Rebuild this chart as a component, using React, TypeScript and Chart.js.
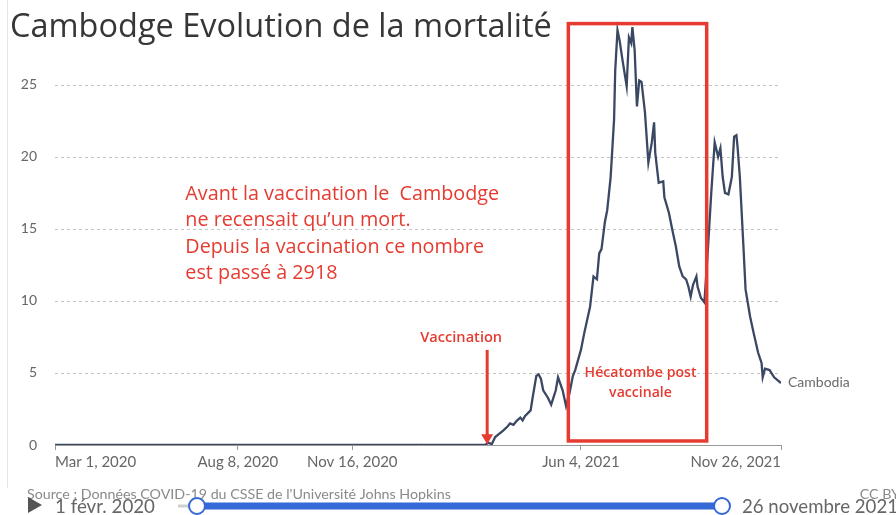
import { useEffect, useRef } from "react";
import { Chart, registerables } from "chart.js";
Chart.register(...registerables);

// Days since Mar 1, 2020
const dayOffsets = [
  0, 376, 379, 381, 382, 385, 389, 392, 396, 398, 401, 404, 407, 409, 411, 416, 418, 421, 423, 425,
  427, 431, 434, 438, 440, 444, 447, 450, 453, 455, 460, 463, 468, 471, 474, 476, 478, 481, 483, 486,
  489, 490, 492, 494, 496, 500, 502, 504, 505, 507, 509, 511, 513, 516, 519, 522, 524, 525, 528, 532,
  533, 537, 540, 543, 546, 549, 552, 554, 556, 558, 561, 562, 565, 568, 571, 574, 577, 580, 582, 584,
  586, 589, 592, 594, 596, 597, 599, 602, 604, 608, 611, 615, 618, 619, 621, 625, 629, 635,
];
// New deaths (7-day average)
const deaths = [
  0, 0, 0.15, 0.1, 0.05, 0.55, 0.8, 1.0, 1.3, 1.5, 1.4, 1.7, 1.9, 1.7, 2.0, 2.4, 3.4, 4.8, 4.9, 4.6,
  3.8, 3.3, 2.8, 3.8, 4.7, 3.8, 2.7, 3.6, 4.8, 5.2, 6.6, 7.8, 9.6, 11.7, 11.5, 13.3, 13.6, 15.5, 16.3, 18.6,
  22.6, 26.0, 28.8, 28.0, 26.9, 24.9, 28.3, 27.9, 29.0, 27.4, 23.5, 25.3, 25.2, 23.1, 19.6, 21.0, 22.4, 20.3, 18.2, 18.3,
  17.2, 16.1, 14.9, 13.8, 12.4, 11.7, 11.5, 11.0, 10.3, 11.1, 11.7, 11.0, 10.2, 9.9, 13.5, 17.5, 21.0, 20.0, 20.6, 18.6,
  17.5, 17.4, 18.6, 21.4, 21.5, 20.7, 18.6, 14.0, 10.8, 8.9, 7.8, 6.4, 5.7, 4.7, 5.3, 5.2, 4.7, 4.3,
];

const tickDays = [0, 160, 260, 460, 635];
const tickLabels = ["Mar 1, 2020", "Aug 8, 2020", "Nov 16, 2020", "Jun 4, 2021", "Nov 26, 2021"];
const yTicks = [0, 5, 10, 15, 20, 25];
const seriesName = "Cambodia";

const titleText = "Cambodge Evolution de la mortalité";
const noteLines = [
  "Avant la vaccination le  Cambodge",
  "ne recensait qu’un mort.",
  "Depuis la vaccination ce nombre",
  "est passé à 2918",
];
const noteDay = 114;
const noteValue = 17.4;
const vaccinationDay = 378;
const vaccinationLabel = "Vaccination";
const boxStartDay = 449;
const boxEndDay = 570;
const boxTopValue = 29.25;
const boxBottomValue = 0.28;
const boxLabelLines = ["Hécatombe post", "vaccinale"];
const sourceText = "Source : Données COVID-19 du CSSE de l'Université Johns Hopkins";
const licenceText = "CC BY";
const rangeStartLabel = "1 févr. 2020";
const rangeEndLabel = "26 novembre 2021";

const RED = "#e63b30";

function fitSize(ctx: CanvasRenderingContext2D, text: string, weight: string, family: string, target: number) {
  ctx.font = `${weight} 100px ${family}`;
  const w = ctx.measureText(text).width;
  return (100 * target) / w;
}

const overlay = {
  id: "overlay",
  beforeDatasetsDraw(chart: any) {
    // dotted horizontal grid lines
    const ctx: CanvasRenderingContext2D = chart.ctx;
    const ys = chart.scales.y;
    const area = chart.chartArea;
    ctx.save();
    ctx.strokeStyle = "#c4c4c4";
    ctx.lineWidth = 1;
    ctx.setLineDash([3, 3]);
    yTicks.forEach((v) => {
      if (v === 0) return;
      const y = Math.round(ys.getPixelForValue(v)) + 0.5;
      ctx.beginPath();
      ctx.moveTo(area.left, y);
      ctx.lineTo(area.right, y);
      ctx.stroke();
    });
    ctx.restore();
  },
  afterDraw(chart: any) {
    const ctx: CanvasRenderingContext2D = chart.ctx;
    const xs = chart.scales.x;
    const ys = chart.scales.y;
    ctx.save();

    // frame line at left
    ctx.strokeStyle = "#e4e4e4";
    ctx.lineWidth = 1;
    ctx.beginPath();
    ctx.moveTo(7.5, 0);
    ctx.lineTo(7.5, 488);
    ctx.stroke();

    // Title
    const tFam = "'Open Sans', 'Noto Sans', sans-serif";
    let sz = fitSize(ctx, titleText, "400", tFam, 542);
    ctx.font = `400 ${sz}px ${tFam}`;
    ctx.fillStyle = "#363636";
    ctx.textAlign = "left";
    ctx.textBaseline = "middle";
    ctx.fillText(titleText, 10, 28);

    // Note
    sz = fitSize(ctx, noteLines[0], "400", tFam, 314);
    ctx.font = `400 ${sz}px ${tFam}`;
    ctx.fillStyle = RED;
    const nx = xs.getPixelForValue(noteDay);
    const ny = ys.getPixelForValue(noteValue);
    noteLines.forEach((l, i) => ctx.fillText(l, nx, ny + i * 26.5));

    // Vaccination arrow
    const ax = xs.getPixelForValue(vaccinationDay);
    const aTop = ys.getPixelForValue(6.6);
    const aTip = ys.getPixelForValue(0.05);
    ctx.strokeStyle = RED;
    ctx.lineWidth = 3;
    ctx.beginPath();
    ctx.moveTo(ax, aTop);
    ctx.lineTo(ax, aTip - 8);
    ctx.stroke();
    ctx.beginPath();
    ctx.moveTo(ax - 6, aTip - 10);
    ctx.lineTo(ax + 6, aTip - 10);
    ctx.lineTo(ax, aTip);
    ctx.closePath();
    ctx.fillStyle = RED;
    ctx.fill();
    sz = fitSize(ctx, vaccinationLabel, "600", tFam, 82);
    ctx.font = `600 ${sz}px ${tFam}`;
    ctx.textAlign = "center";
    ctx.fillText(vaccinationLabel, ax - 26, ys.getPixelForValue(7.45));

    // Red box
    const bx0 = xs.getPixelForValue(boxStartDay);
    const bx1 = xs.getPixelForValue(boxEndDay);
    const by0 = ys.getPixelForValue(boxTopValue);
    const by1 = ys.getPixelForValue(boxBottomValue);
    ctx.lineWidth = 3.5;
    ctx.strokeRect(bx0, by0, bx1 - bx0, by1 - by0);
    sz = fitSize(ctx, boxLabelLines[0], "600", tFam, 112);
    ctx.font = `600 ${sz}px ${tFam}`;
    const bcx = (bx0 + bx1) / 2 + 3;
    ctx.fillText(boxLabelLines[0], bcx, 373);
    ctx.fillText(boxLabelLines[1], bcx, 393);

    // Series label
    const last = dayOffsets.length - 1;
    ctx.font = "400 14px Lato, sans-serif";
    ctx.fillStyle = "#6b6b6b";
    ctx.textAlign = "left";
    ctx.fillText(seriesName, xs.getPixelForValue(dayOffsets[last]) + 7, ys.getPixelForValue(deaths[last]) - 1);

    // Source
    sz = fitSize(ctx, sourceText, "400", "Lato, sans-serif", 424);
    ctx.font = `400 ${sz}px Lato, sans-serif`;
    ctx.fillStyle = "#8a8a8a";
    ctx.fillText(sourceText, 27, 494);
    ctx.textAlign = "right";
    ctx.fillText(licenceText, 900, 494);

    // Timeline
    ctx.fillStyle = "#555";
    ctx.beginPath();
    ctx.moveTo(28, 497);
    ctx.lineTo(42, 505);
    ctx.lineTo(28, 513);
    ctx.closePath();
    ctx.fill();
    ctx.fillStyle = "#666";
    ctx.textAlign = "left";
    sz = fitSize(ctx, rangeStartLabel, "400", "Lato, sans-serif", 100);
    ctx.font = `400 ${sz}px Lato, sans-serif`;
    ctx.fillText(rangeStartLabel, 55, 507);
    sz = fitSize(ctx, rangeEndLabel, "400", "Lato, sans-serif", 156);
    ctx.font = `400 ${sz}px Lato, sans-serif`;
    ctx.fillText(rangeEndLabel, 742, 507);
    ctx.strokeStyle = "#cfcfcf";
    ctx.lineWidth = 3;
    ctx.beginPath();
    ctx.moveTo(178, 506);
    ctx.lineTo(197, 506);
    ctx.stroke();
    ctx.strokeStyle = "#3569d6";
    ctx.lineWidth = 7;
    ctx.beginPath();
    ctx.moveTo(197, 506);
    ctx.lineTo(722, 506);
    ctx.stroke();
    [197, 722].forEach((cx) => {
      ctx.beginPath();
      ctx.arc(cx, 506, 8, 0, Math.PI * 2);
      ctx.fillStyle = "#fff";
      ctx.fill();
      ctx.lineWidth = 2;
      ctx.strokeStyle = "#3569d6";
      ctx.stroke();
    });

    ctx.restore();
  },
};

export default function App() {
  const ref = useRef<HTMLCanvasElement | null>(null);
  useEffect(() => {
    document.body.style.margin = "0";
    const canvas = ref.current!;
    const chart = new Chart(canvas, {
      type: "line",
      data: {
        datasets: [
          {
            label: seriesName,
            data: dayOffsets.map((d, i) => ({ x: d, y: deaths[i] })),
            borderColor: "#3b4863",
            borderWidth: 2.3,
            pointRadius: 0,
            tension: 0,
            fill: false,
          },
        ],
      },
      options: {
        responsive: false,
        animation: false,
        layout: { padding: { top: 20, right: 115, bottom: 40, left: 0 } },
        plugins: { legend: { display: false }, tooltip: { enabled: false }, title: { display: false } },
        scales: {
          x: {
            type: "linear",
            min: 0,
            max: 635,
            afterBuildTicks: (s: any) => {
              s.ticks = tickDays.map((v) => ({ value: v }));
            },
            afterFit: (s: any) => {
              s.height = 30;
            },
            ticks: {
              callback: (v: any) => tickLabels[tickDays.indexOf(Number(v))] ?? "",
              align: "inner",
              maxRotation: 0,
              autoSkip: false,
              color: "#666",
              font: { family: "Lato", size: 15 },
              padding: 3,
            },
            grid: { drawOnChartArea: false, drawTicks: true, tickLength: 5, color: "#999" },
            border: { display: true, color: "#999", width: 1 },
          },
          y: {
            type: "linear",
            min: 0,
            max: 29.5,
            afterBuildTicks: (s: any) => {
              s.ticks = yTicks.map((v) => ({ value: v }));
            },
            afterFit: (s: any) => {
              s.width = 55;
            },
            ticks: { color: "#666", font: { family: "Lato", size: 14 }, padding: 10 },
            grid: { display: false },
            border: { display: false },
          },
        },
      } as any,
      plugins: [overlay],
    });
    return () => chart.destroy();
  }, []);
  return (
    <div style={{ position: "fixed", left: 0, top: 0, width: 896, height: 515, background: "#fff" }}>
      <canvas ref={ref} width={896} height={515} />
    </div>
  );
}
